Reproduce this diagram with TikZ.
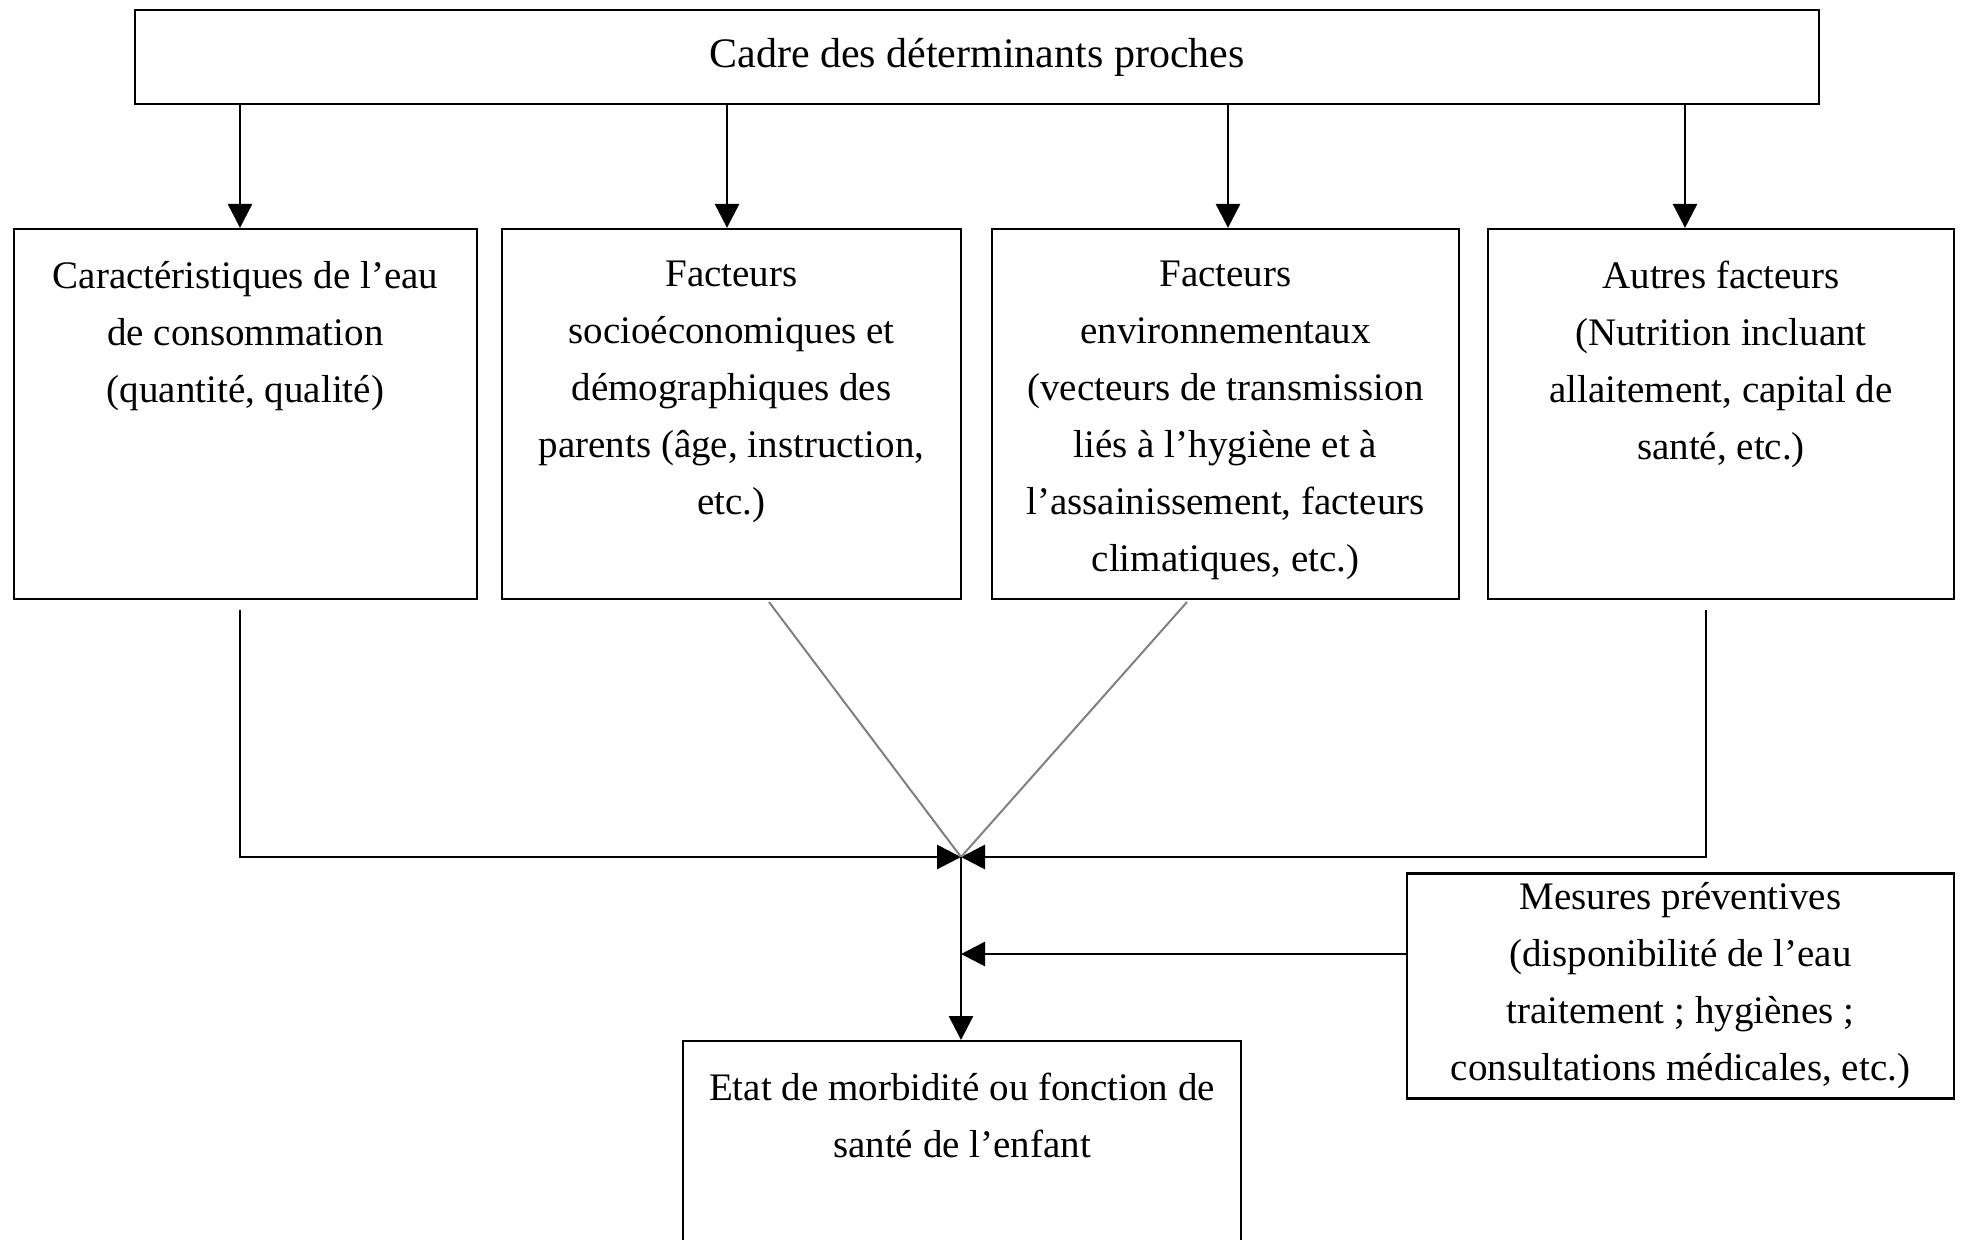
\documentclass[tikz,border=0pt]{standalone}
\usepackage{fontspec}
\setmainfont{Liberation Serif}
\usetikzlibrary{positioning,arrows.meta}

\begin{document}
\begin{tikzpicture}[x=0.5pt,y=-0.5pt,
  cadre/.style={draw,line width=1.1pt,inner sep=0pt},
  txt/.style={align=center,inner sep=0pt,font=\fontsize{19.5}{28.5}\selectfont},
  fl/.style={-{Triangle[length=12pt,width=12pt]},line width=1.4pt},
  gris/.style={line width=1pt,draw=gray}]
\useasboundingbox (0,0) rectangle (1964,1239);

\node[cadre,txt,font=\fontsize{21}{28.5}\selectfont,minimum width=842pt,minimum height=47pt] (top) at (977,57) {Cadre des déterminants proches};

% boites du milieu
\node[cadre,minimum width=231.5pt,minimum height=185pt] (b1) at (245.5,414) {};
\node[cadre,minimum width=229.5pt,minimum height=185pt] (b2) at (731.5,414) {};
\node[cadre,minimum width=233.5pt,minimum height=185pt] (b3) at (1225.5,414) {};
\node[cadre,minimum width=233pt,minimum height=185pt] (b4) at (1721,414) {};

\node[txt,below=16.5pt of b1.north] (t1) {Caractéristiques de l’eau\\de consommation\\(quantité, qualité)};
\node[txt,below=16.5pt of b2.north] (t2) {Facteurs\\socioéconomiques et\\démographiques des\\parents (âge, instruction,\\etc.)};
\node[txt,below=16.5pt of b3.north] (t3) {Facteurs\\environnementaux\\(vecteurs de transmission\\liés à l’hygiène et à\\l’assainissement, facteurs\\climatiques, etc.)};
\node[txt,below=16.5pt of b4.north] (t4) {Autres facteurs\\(Nutrition incluant\\allaitement, capital de\\santé, etc.)};

\node[cadre,txt,minimum width=273.5pt,minimum height=112.5pt] (mes) at (1680.5,986) {Mesures préventives\\(disponibilité de l’eau\\traitement ; hygiènes ;\\consultations médicales, etc.)};

\node[cadre,minimum width=279pt,minimum height=140pt,anchor=north] (etat) at (962,1040) {};
\node[txt,below=16.5pt of etat.north] (te) {Etat de morbidité ou fonction de\\santé de l’enfant};

\foreach \i/\x in {1/240,2/727,3/1228,4/1685}{
  \coordinate (a\i) at (\x,0);
  \draw[fl] (top.south -| a\i) -- (b\i.north -| a\i);
}

\coordinate (J) at (961,857);
\coordinate (d1) at (240,610);
\coordinate (d4) at (1706,610);
\coordinate (g2) at (769,602);
\coordinate (g3) at (1187,602);
\coordinate (m) at (1407,954);

\draw[fl] (d1) |- (J);
\draw[fl] (d4) |- (J);
\draw[gris] (g2) -- (J);
\draw[gris] (g3) -- (J);
\draw[fl] (J) -- (etat.north -| J);
\draw[fl] (mes.west |- m) -- (J |- m);
\end{tikzpicture}
\end{document}
